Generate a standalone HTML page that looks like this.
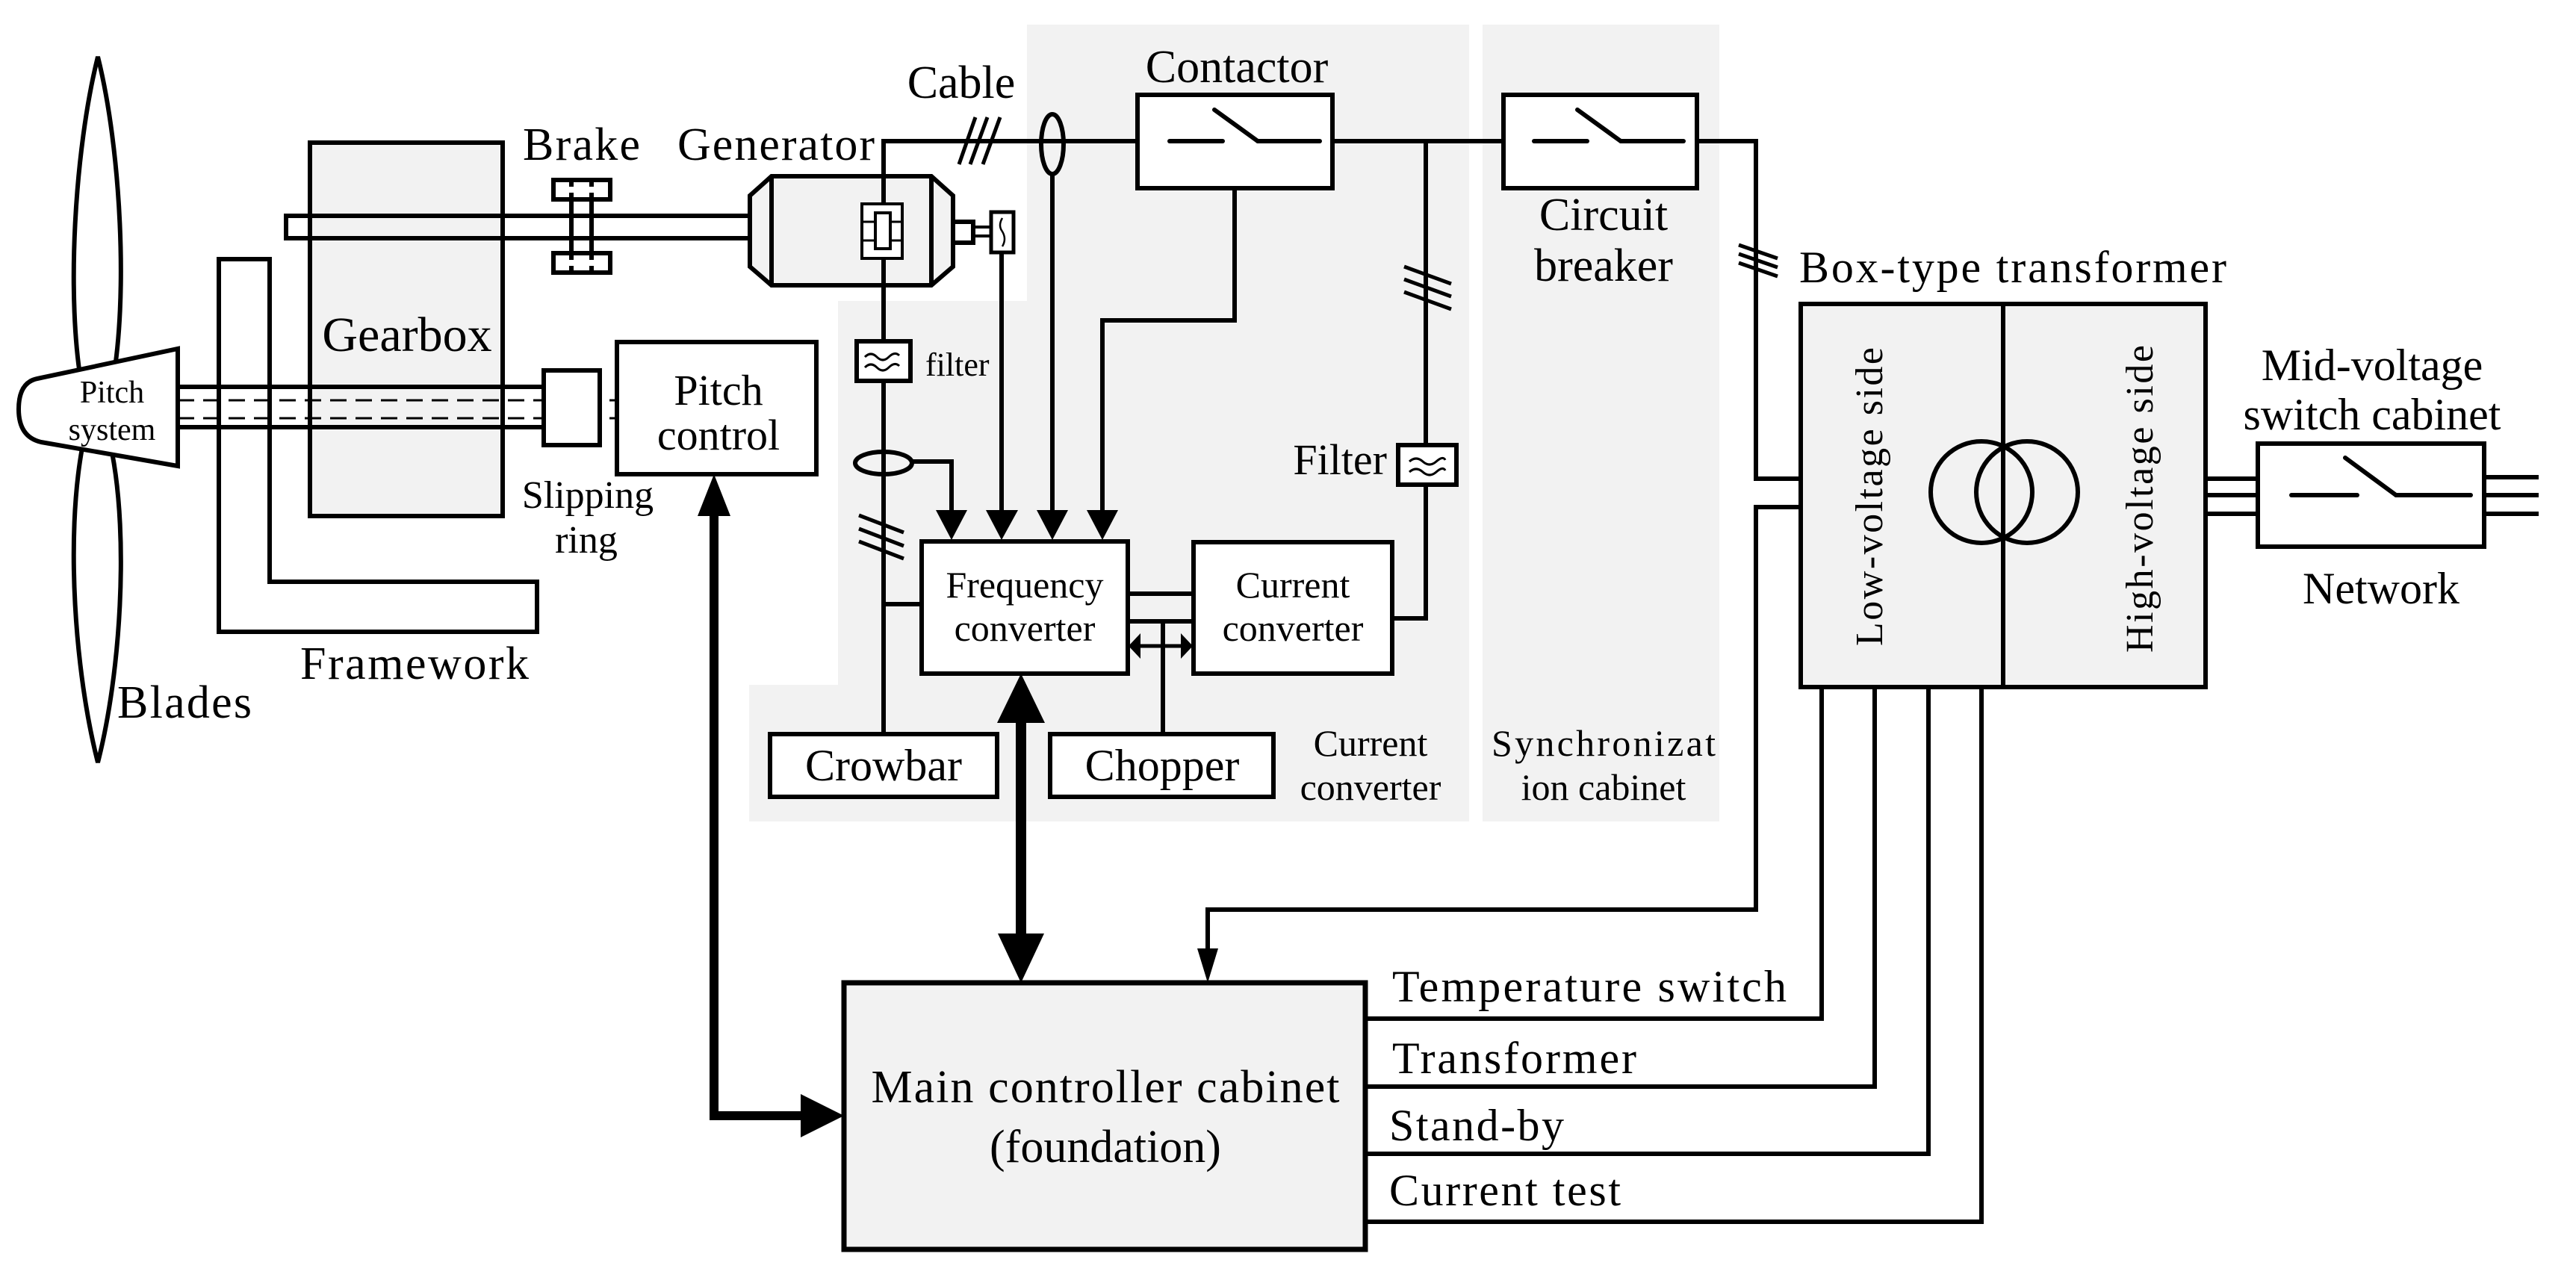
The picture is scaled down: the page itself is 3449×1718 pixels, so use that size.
<!DOCTYPE html>
<html><head><meta charset="utf-8"><style>html,body{margin:0;padding:0;background:#fff}svg{display:block}svg text{font-family:"Liberation Serif","DejaVu Serif",serif}</style></head>
<body>
<svg width="3449" height="1718" viewBox="0 0 3449 1718" xmlns="http://www.w3.org/2000/svg" style="font-family:'Liberation Serif',serif" fill="none" stroke="#000" stroke-width="6">
<!-- gray regions -->
<polygon points="1375,33 1967,33 1967,1100 1003,1100 1003,917 1122,917 1122,403 1375,403" fill="#f2f2f2" stroke="none"/>
<rect x="1985" y="33" width="317" height="1067" fill="#f2f2f2" stroke="none"/>

<!-- blades -->
<path d="M131,76 C100,200 88,400 110,520 L150,516 C172,400 162,200 131,76 Z" fill="#fff"/>
<path d="M131,1021 C100,900 88,720 110,600 L150,606 C172,720 162,900 131,1021 Z" fill="#fff"/>
<!-- framework -->
<polygon points="293,347 361,347 361,779 719,779 719,846 293,846" fill="#fff"/>
<!-- gearbox -->
<rect x="415" y="191" width="258" height="500" fill="#f2f2f2"/>
<!-- upper shaft -->
<rect x="383" y="289" width="623" height="30" fill="none"/>
<!-- lower shaft -->
<line x1="238" y1="518" x2="728" y2="518"/>
<line x1="238" y1="572" x2="728" y2="572"/>
<line x1="238" y1="536" x2="849" y2="536" stroke-width="3" stroke-dasharray="22,12"/>
<line x1="238" y1="560" x2="849" y2="560" stroke-width="3" stroke-dasharray="22,12"/>
<!-- hub -->
<path d="M238,467 L238,624 L55,592 Q25,585 25,548 Q25,512 50,507 Z" fill="#fff"/>
<text x="150" y="539" font-size="42" text-anchor="middle" fill="#000" stroke="none">Pitch</text>
<text x="150" y="589" font-size="42" text-anchor="middle" fill="#000" stroke="none">system</text>
<!-- slipping ring -->
<rect x="728" y="496" width="75" height="100" fill="#fff"/>
<!-- brake -->
<rect x="741" y="241" width="76" height="26" fill="#fff"/>
<rect x="741" y="339" width="76" height="26" fill="#fff"/>
<line x1="765" y1="241" x2="765" y2="365"/>
<line x1="792" y1="241" x2="792" y2="365"/>
<rect x="754" y="250" width="50" height="8" fill="#fff" stroke="none"/>
<rect x="754" y="348" width="50" height="8" fill="#fff" stroke="none"/>
<!-- pitch control -->
<rect x="826" y="458" width="267" height="177" fill="#fff"/>
<text x="962" y="542" font-size="58" text-anchor="middle" fill="#000" stroke="none">Pitch</text>
<text x="962" y="602" font-size="58" text-anchor="middle" fill="#000" stroke="none">control</text>

<!-- generator -->
<polygon points="1033,236 1247,236 1276,262 1276,357 1247,382 1033,382 1004,357 1004,262" fill="#f2f2f2"/>
<line x1="1033" y1="236" x2="1033" y2="382"/>
<line x1="1247" y1="236" x2="1247" y2="382"/>
<rect x="1276" y="297" width="27" height="28" fill="#fff"/>
<line x1="1303" y1="304" x2="1327" y2="304" stroke-width="4"/>
<line x1="1303" y1="316" x2="1327" y2="316" stroke-width="4"/>
<rect x="1327" y="284" width="30" height="54" fill="#fff" stroke-width="5"/>
<path d="M1342,292 q-6,10 0,18 q6,10 0,20" stroke-width="2.5"/>
<line x1="1341" y1="338" x2="1341" y2="686"/>
<!-- generator line -->
<line x1="1183" y1="189" x2="1183" y2="983"/>
<line x1="1180" y1="189" x2="1523" y2="189"/>
<rect x="1154" y="273" width="54" height="73" fill="#fff" stroke-width="4"/>
<line x1="1154" y1="297" x2="1208" y2="297" stroke-width="3"/>
<line x1="1154" y1="322" x2="1208" y2="322" stroke-width="3"/>
<rect x="1172" y="285" width="20" height="48" fill="#fff" stroke-width="4"/>
<!-- cable slashes -->
<line x1="1284" y1="220" x2="1306" y2="157" stroke-width="5"/>
<line x1="1299" y1="220" x2="1322" y2="157" stroke-width="5"/>
<line x1="1316" y1="220" x2="1339" y2="157" stroke-width="5"/>
<text x="1287" y="131" font-size="62" text-anchor="middle" fill="#000" stroke="none">Cable</text>
<!-- ellipse on top line -->
<ellipse cx="1409" cy="193" rx="15" ry="40" fill="none"/>
<line x1="1409" y1="233" x2="1409" y2="686"/>
<!-- contactor -->
<rect x="1523" y="127" width="261" height="125" fill="#fff"/>
<line x1="1566" y1="189" x2="1637" y2="189" stroke-linecap="round"/>
<line x1="1626" y1="147" x2="1684" y2="189" stroke-linecap="round"/>
<line x1="1684" y1="189" x2="1767" y2="189" stroke-linecap="round"/>
<text x="1656" y="110" font-size="62" text-anchor="middle" fill="#000" stroke="none">Contactor</text>
<polyline points="1653,252 1653,429 1476,429 1476,686"/>
<line x1="1784" y1="189" x2="2013" y2="189"/>
<!-- circuit breaker -->
<rect x="2013" y="127" width="259" height="125" fill="#fff"/>
<line x1="2054" y1="189" x2="2125" y2="189" stroke-linecap="round"/>
<line x1="2112" y1="147" x2="2170" y2="189" stroke-linecap="round"/>
<line x1="2170" y1="189" x2="2254" y2="189" stroke-linecap="round"/>
<text x="2147" y="308" font-size="62" text-anchor="middle" fill="#000" stroke="none">Circuit</text>
<text x="2147" y="376" font-size="62" text-anchor="middle" fill="#000" stroke="none">breaker</text>
<polyline points="2272,189 2351,189 2351,641 2411,641"/>
<polyline points="2411,679 2351,679 2351,1218 1617,1218 1617,1280"/>
<polygon points="1603,1270 1631,1270 1617,1316" fill="#000" stroke="none"/>
<line x1="2328" y1="328" x2="2380" y2="346" stroke-width="5"/>
<line x1="2328" y1="340" x2="2380" y2="358" stroke-width="5"/>
<line x1="2328" y1="352" x2="2380" y2="370" stroke-width="5"/>
<!-- vertical to filter -->
<line x1="1909" y1="189" x2="1909" y2="593"/>
<line x1="1880" y1="357" x2="1943" y2="380" stroke-width="5"/>
<line x1="1880" y1="374" x2="1943" y2="397" stroke-width="5"/>
<line x1="1880" y1="391" x2="1943" y2="414" stroke-width="5"/>
<rect x="1872" y="596" width="78" height="53" fill="#fff"/>
<path d="M1887,618 q9,-8 18,0 t18,0 t12,-2" stroke-width="3"/>
<path d="M1887,632 q9,-8 18,0 t18,0 t12,-2" stroke-width="3"/>
<text x="1857" y="635" font-size="58" text-anchor="end" fill="#000" stroke="none">Filter</text>
<polyline points="1909,649 1909,828 1864,828"/>
<!-- small filter on gen line -->
<rect x="1147" y="457" width="72" height="53" fill="#fff"/>
<path d="M1158,478 q8,-8 16,0 t16,0 t14,-2" stroke-width="3"/>
<path d="M1158,492 q8,-8 16,0 t16,0 t14,-2" stroke-width="3"/>
<text x="1239" y="503" font-size="44" fill="#000" stroke="none">filter</text>
<!-- ellipse & slashes on gen line -->
<ellipse cx="1183" cy="620" rx="38" ry="15" fill="none"/>
<polyline points="1221,618 1274,618 1274,686"/>
<line x1="1150" y1="690" x2="1210" y2="713" stroke-width="5"/>
<line x1="1150" y1="708" x2="1210" y2="731" stroke-width="5"/>
<line x1="1150" y1="725" x2="1210" y2="748" stroke-width="5"/>
<line x1="1183" y1="809" x2="1234" y2="809"/>
<!-- arrowheads into freq converter -->
<polygon points="1253,683 1295,683 1274,723" fill="#000" stroke="none"/>
<polygon points="1320,683 1363,683 1341,723" fill="#000" stroke="none"/>
<polygon points="1388,683 1430,683 1409,723" fill="#000" stroke="none"/>
<polygon points="1455,683 1497,683 1476,723" fill="#000" stroke="none"/>
<!-- freq converter -->
<rect x="1234" y="725" width="276" height="177" fill="#fff"/>
<text x="1372" y="800" font-size="50" text-anchor="middle" fill="#000" stroke="none">Frequency</text>
<text x="1372" y="858" font-size="50" text-anchor="middle" fill="#000" stroke="none">converter</text>
<!-- current converter -->
<rect x="1598" y="726" width="266" height="176" fill="#fff"/>
<text x="1731" y="800" font-size="50" text-anchor="middle" fill="#000" stroke="none">Current</text>
<text x="1731" y="858" font-size="50" text-anchor="middle" fill="#000" stroke="none">converter</text>
<line x1="1510" y1="795" x2="1598" y2="795"/>
<line x1="1510" y1="832" x2="1598" y2="832"/>
<line x1="1525" y1="865" x2="1583" y2="865" stroke-width="5"/>
<polygon points="1511,865 1527,848 1527,882" fill="#000" stroke="none"/>
<polygon points="1597,865 1581,848 1581,882" fill="#000" stroke="none"/>
<line x1="1557" y1="832" x2="1557" y2="983"/>
<!-- crowbar, chopper -->
<rect x="1031" y="983" width="304" height="84" fill="#fff"/>
<text x="1183" y="1045" font-size="60" text-anchor="middle" fill="#000" stroke="none">Crowbar</text>
<rect x="1406" y="983" width="299" height="84" fill="#fff"/>
<text x="1556" y="1045" font-size="60" text-anchor="middle" fill="#000" stroke="none">Chopper</text>
<text x="1835" y="1012" font-size="50" text-anchor="middle" fill="#000" stroke="none">Current</text>
<text x="1835" y="1071" font-size="50" text-anchor="middle" fill="#000" stroke="none">converter</text>
<text x="2147" y="1012" font-size="50" text-anchor="middle" fill="#000" stroke="none" textLength="300">Synchronizat</text>
<text x="2147" y="1071" font-size="50" text-anchor="middle" fill="#000" stroke="none">ion cabinet</text>
<!-- big double arrow -->
<line x1="1367" y1="960" x2="1367" y2="1260" stroke-width="14"/>
<polygon points="1335,968 1399,968 1367,902" fill="#000" stroke="none"/>
<polygon points="1336,1250 1398,1250 1367,1316" fill="#000" stroke="none"/>
<!-- pitch control arrow -->
<polyline points="956,680 956,1494 1080,1494" stroke-width="12"/>
<polygon points="934,691 978,691 956,635" fill="#000" stroke="none"/>
<polygon points="1072,1465 1072,1523 1130,1494" fill="#000" stroke="none"/>
<!-- main controller -->
<rect x="1130" y="1316" width="698" height="357" fill="#f2f2f2" stroke-width="7"/>
<text x="1480" y="1476" font-size="62" text-anchor="middle" fill="#000" stroke="none" textLength="627">Main controller cabinet</text>
<text x="1480" y="1556" font-size="62" text-anchor="middle" fill="#000" stroke="none">(foundation)</text>
<!-- outputs -->
<polyline points="1828,1364 2439,1364 2439,920"/>
<polyline points="1828,1455 2510,1455 2510,920"/>
<polyline points="1828,1545 2582,1545 2582,920"/>
<polyline points="1828,1636 2653,1636 2653,920"/>
<text x="1864" y="1341" font-size="60" fill="#000" stroke="none" textLength="528">Temperature switch</text>
<text x="1864" y="1437" font-size="60" fill="#000" stroke="none" textLength="327">Transformer</text>
<text x="1860" y="1527" font-size="60" fill="#000" stroke="none" textLength="234">Stand-by</text>
<text x="1860" y="1614" font-size="60" fill="#000" stroke="none" textLength="310">Current test</text>
<!-- transformer -->
<text x="2409" y="378" font-size="60" fill="#000" stroke="none" textLength="572">Box-type transformer</text>
<rect x="2411" y="407" width="542" height="513" fill="#f2f2f2"/>
<line x1="2682" y1="407" x2="2682" y2="920"/>
<circle cx="2653" cy="659" r="68" fill="none"/>
<circle cx="2714" cy="659" r="68" fill="none"/>
<text transform="translate(2520,665) rotate(-90)" font-size="52" text-anchor="middle" fill="#000" stroke="none" textLength="400">Low-voltage side</text>
<text transform="translate(2882,668) rotate(-90)" font-size="52" text-anchor="middle" fill="#000" stroke="none" textLength="412">High-voltage side</text>
<!-- MV cabinet -->
<line x1="2953" y1="641" x2="3023" y2="641"/>
<line x1="2953" y1="663" x2="3023" y2="663"/>
<line x1="2953" y1="688" x2="3023" y2="688"/>
<line x1="3326" y1="639" x2="3399" y2="639"/>
<line x1="3326" y1="663" x2="3399" y2="663"/>
<line x1="3326" y1="688" x2="3399" y2="688"/>
<rect x="3023" y="594" width="303" height="138" fill="#fff"/>
<line x1="3068" y1="663" x2="3156" y2="663" stroke-linecap="round"/>
<line x1="3140" y1="613" x2="3208" y2="663" stroke-linecap="round"/>
<line x1="3208" y1="663" x2="3308" y2="663" stroke-linecap="round"/>
<text x="3176" y="509" font-size="60" text-anchor="middle" fill="#000" stroke="none">Mid-voltage</text>
<text x="3176" y="575" font-size="60" text-anchor="middle" fill="#000" stroke="none">switch cabinet</text>
<text x="3188" y="808" font-size="60" text-anchor="middle" fill="#000" stroke="none">Network</text>
<!-- left labels -->
<text x="545" y="470" font-size="66" text-anchor="middle" fill="#000" stroke="none">Gearbox</text>
<text x="700" y="214" font-size="62" fill="#000" stroke="none" textLength="157">Brake</text>
<text x="907" y="214" font-size="62" fill="#000" stroke="none" textLength="264">Generator</text>
<text x="787" y="680" font-size="52" text-anchor="middle" fill="#000" stroke="none">Slipping</text>
<text x="785" y="740" font-size="52" text-anchor="middle" fill="#000" stroke="none">ring</text>
<text x="402" y="909" font-size="62" fill="#000" stroke="none" textLength="306">Framework</text>
<text x="157" y="961" font-size="62" fill="#000" stroke="none" textLength="180">Blades</text>
</svg>
</body></html>
